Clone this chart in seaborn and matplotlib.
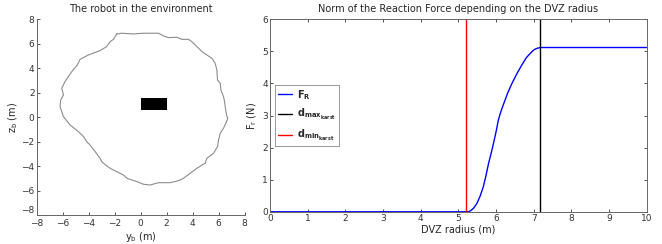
import matplotlib
matplotlib.use("Agg")
import matplotlib.pyplot as plt
import seaborn as sns
import pandas as pd

sns.set_theme(style="white")
plt.rcParams['font.family'] = ['DejaVu Sans']
plt.rcParams['mathtext.fontset'] = 'dejavusans'

# Environment outline (y_b, z_b) in metres
env_y = [-1.84, -1.45, -0.55, 0.22, 1.38, 1.76, 2.15, 2.79, 3.17, 3.69, 3.94, 4.33, 4.72,
         5.10, 5.49, 5.74, 5.87, 5.92, 6.13, 6.18, 6.38, 6.44, 6.51, 6.64, 6.72, 6.56,
         6.38, 6.13, 6.00, 5.92, 5.61, 5.10, 4.97, 4.72, 4.54, 4.33, 3.82, 3.30, 3.05,
         2.66, 2.27, 1.76, 1.38, 0.73, 0.22, -0.29, -0.68, -1.06, -1.32, -1.84, -2.35,
         -2.61, -2.99, -3.12, -3.50, -3.89, -4.15, -4.40, -4.79, -5.43, -5.94, -6.20,
         -6.15, -5.94, -6.07, -5.82, -5.56, -5.30, -4.87, -4.66, -4.02, -3.12, -2.61,
         -2.35, -2.09, -1.84]
env_z = [6.80, 6.86, 6.80, 6.86, 6.86, 6.64, 6.50, 6.53, 6.36, 6.36, 6.17, 5.77, 5.36,
         5.08, 4.81, 4.40, 3.86, 3.04, 2.77, 2.22, 1.68, 1.40, 0.86, 0.04, -0.09, -0.50,
         -0.91, -1.32, -1.87, -2.41, -2.96, -3.37, -3.77, -3.91, -4.05, -4.18, -4.59,
         -5.00, -5.14, -5.27, -5.36, -5.36, -5.36, -5.55, -5.49, -5.27, -5.14, -5.00,
         -4.73, -4.46, -4.18, -3.99, -3.64, -3.37, -2.82, -2.28, -2.00, -1.59, -1.18,
         -0.64, 0.04, 0.86, 1.40, 1.81, 2.36, 2.90, 3.31, 3.72, 4.27, 4.73, 5.08, 5.44,
         5.77, 6.17, 6.36, 6.80]

# Robot rectangle corners
robot_y = [0.0, 2.0, 2.0, 0.0]
robot_z = [0.6, 0.6, 1.6, 1.6]

# Reaction force vs DVZ radius
radius = [0.0, 5.0, 5.22, 5.27, 5.32, 5.40, 5.49, 5.58, 5.66, 5.73, 5.80, 5.87, 5.93,
          6.00, 6.06, 6.12, 6.19, 6.30, 6.42, 6.55, 6.68, 6.80, 6.95, 7.02, 7.10, 7.18,
          8.0, 9.0, 10.0]
force = [0.0, 0.0, 0.0, 0.0, 0.03, 0.11, 0.26, 0.50, 0.78, 1.12, 1.51, 1.83, 2.13,
         2.50, 2.86, 3.10, 3.33, 3.68, 4.00, 4.30, 4.57, 4.80, 4.99, 5.06, 5.10, 5.12,
         5.12, 5.12, 5.12]
d_min = 5.21
d_max = 7.17

fig = plt.figure(figsize=(6.62, 2.44), dpi=100)
ax1 = fig.add_axes([0.0554, 0.119, 0.314, 0.802])
ax2 = fig.add_axes([0.408, 0.132, 0.569, 0.789])

fs = 6.5
# Left plot
env_df = pd.DataFrame({"y": env_y, "z": env_z})
sns.lineplot(data=env_df, x="y", y="z", sort=False, estimator=None, ax=ax1,
             color="#8c8c8c", linewidth=0.8)
ax1.fill(robot_y, robot_z, color="black", linewidth=0)
ax1.set_xlim(-8, 8)
ax1.set_ylim(-8, 8)
ax1.set_xticks(range(-8, 9, 2))
ax1.set_yticks(range(-8, 9, 2))
ax1.set_xlabel("y$_\\mathrm{b}$ (m)", fontsize=7, labelpad=1)
ax1.set_ylabel("z$_\\mathrm{b}$ (m)", fontsize=7, labelpad=1)
ax1.set_title("The robot in the environment", fontsize=7, pad=5)
for s in ["top", "right"]:
    ax1.spines[s].set_visible(False)
for s in ["left", "bottom"]:
    ax1.spines[s].set_color("#666666")
    ax1.spines[s].set_linewidth(0.7)
ax1.tick_params(direction="in", length=2, width=0.6, labelsize=fs, pad=1.5,
                colors="#333333", bottom=True, left=True)
ax1.tick_params(axis="x", pad=3)
for lbl in ax1.get_yticklabels():
    if lbl.get_text().replace("\u2212", "-") == "-8":
        lbl.set_verticalalignment("bottom")

# Right plot
f_df = pd.DataFrame({"r": radius, "F": force})
sns.lineplot(data=f_df, x="r", y="F", ax=ax2, color="#0000ff", linewidth=1.0,
             label="$\\mathbf{F_R}$")
ax2.axvline(d_max, color="black", linewidth=1.0, label="$\\mathbf{d_{max_{karst}}}$")
ax2.axvline(d_min, color="red", linewidth=1.0, label="$\\mathbf{d_{min_{karst}}}$")
ax2.set_xlim(0, 10)
ax2.set_ylim(0, 6)
ax2.set_xticks(range(0, 11))
ax2.set_yticks(range(0, 7))
ax2.set_xlabel("DVZ radius (m)", fontsize=7, labelpad=1)
ax2.set_ylabel("F$_\\mathrm{r}$ (N)", fontsize=7, labelpad=2)
ax2.set_title("Norm of the Reaction Force depending on the DVZ radius", fontsize=7, pad=5)
for s in ax2.spines.values():
    s.set_color("#666666")
    s.set_linewidth(0.7)
ax2.tick_params(direction="in", length=2, width=0.6, labelsize=fs, pad=1.5,
                colors="#333333", bottom=True, left=True, top=True, right=True)
leg = ax2.legend(loc="center left", bbox_to_anchor=(0.0, 0.5), fontsize=7,
                 handlelength=1.5, handletextpad=0.5, borderpad=0.3, labelspacing=0.6,
                 fancybox=False, framealpha=1)
leg.get_frame().set_edgecolor("#888888")
leg.get_frame().set_linewidth(0.6)

fig.savefig("out.png", dpi=100)
